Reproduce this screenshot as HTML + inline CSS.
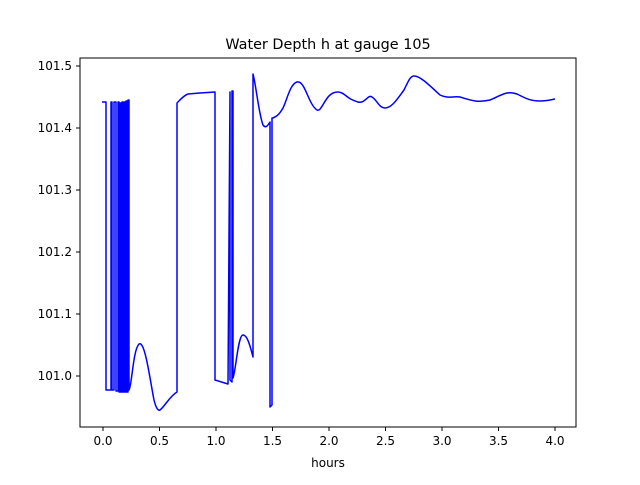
<!DOCTYPE html>
<html><head><style>body{margin:0;background:#fff}</style></head><body>
<svg width="640" height="480" xmlns="http://www.w3.org/2000/svg" font-family="DejaVu Sans, Liberation Sans, sans-serif">
<rect width="640" height="480" fill="#fff"/>
<text x="328" y="49" font-size="14.4" text-anchor="middle">Water Depth h at gauge 105</text>
<g stroke="#000" stroke-width="1">
<line x1="103" y1="427" x2="103" y2="431"/><line x1="159.5" y1="427" x2="159.5" y2="431"/><line x1="216" y1="427" x2="216" y2="431"/><line x1="272.5" y1="427" x2="272.5" y2="431"/><line x1="329" y1="427" x2="329" y2="431"/><line x1="385.5" y1="427" x2="385.5" y2="431"/><line x1="442" y1="427" x2="442" y2="431"/><line x1="498.5" y1="427" x2="498.5" y2="431"/><line x1="555" y1="427" x2="555" y2="431"/>
<line x1="76" y1="66" x2="80" y2="66"/><line x1="76" y1="128" x2="80" y2="128"/><line x1="76" y1="190" x2="80" y2="190"/><line x1="76" y1="252" x2="80" y2="252"/><line x1="76" y1="314" x2="80" y2="314"/><line x1="76" y1="376" x2="80" y2="376"/>
</g>
<g font-size="12" text-anchor="middle">
<text x="103" y="445">0.0</text><text x="159.5" y="445">0.5</text><text x="216" y="445">1.0</text><text x="272.5" y="445">1.5</text><text x="329" y="445">2.0</text><text x="385.5" y="445">2.5</text><text x="442" y="445">3.0</text><text x="498.5" y="445">3.5</text><text x="555" y="445">4.0</text>
<text x="328" y="467">hours</text>
</g>
<g font-size="12" text-anchor="end">
<text x="72" y="70">101.5</text><text x="72" y="132">101.4</text><text x="72" y="194">101.3</text><text x="72" y="256">101.2</text><text x="72" y="318">101.1</text><text x="72" y="380">101.0</text>
</g>
<path fill="none" stroke="#00f" stroke-width="1.5" stroke-linejoin="round" d="M102,102 L106,102 L106,390 L111,390 L111,102 L112,102 L112,390 L114,390 L114,102 L116,102 L116,391 L118,391 L118,102 L119,102 L119,392 L120,392 L120,103 L121,103 L121,392 L122,392 L122,102 L123,102 L123,392 L124,392 L124,102 L125,102 L125,392 L126,392 L126,101 L127,101 L127,392 L128,392 L128,100 L129,100 L129,390 C132,385 133,350 139,344 C145,340 150,380 154,400 C156,408 158,411 160,410 C165,406 170,396 177,392 L177,103 C180,100 183,96 188,94 L200,93 L215,92 L215,380 L228,384 L230,92 L230,380 L232,382 L232,91 L233,91 L233,378 C236,370 238,335 243,335 C248,335 251,350 253,357 L253,74 C256,85 259,115 263,125 C266,129 268,125 270,122 L270,407 L272,405 L272,118 L273,118 C278,116 280,113 283,108 C287,100 290,84 297,82 C305,80 308,104 317,110 C321,112 324,100 330,95 C335,91 340,91 345,95 C350,99 352,100 358,102 C365,104 368,94 372,97 C377,100 379,108 385,108 C392,108 398,98 404,90 C408,82 410,76 414,76 C420,76 428,84 440,95 C448,99 453,96 460,97 C470,100 477,103 490,100 C500,96 507,90 517,94 C525,98 530,101 540,101 C546,101 550,100 555,99"/>
<rect x="80" y="58" width="496" height="369" fill="none" stroke="#000" stroke-width="1"/>
</svg>
</body></html>
